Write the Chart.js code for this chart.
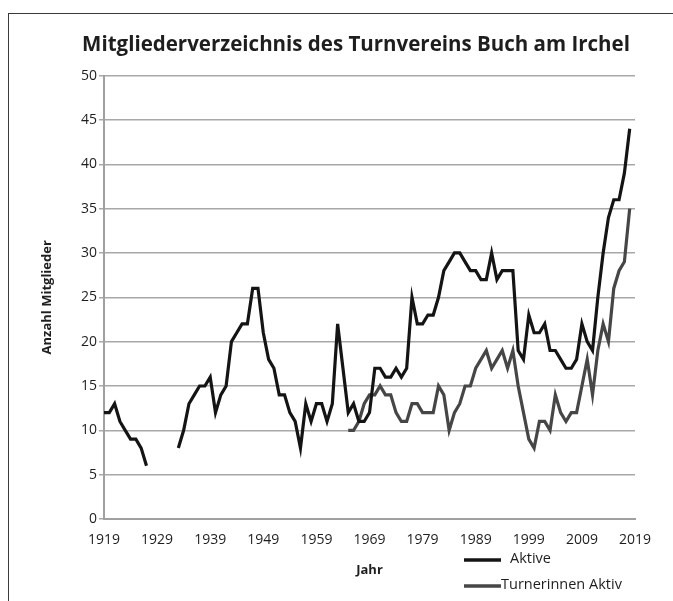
<!DOCTYPE html>
<html><head><meta charset="utf-8">
<script src="https://cdn.jsdelivr.net/npm/chart.js@4.4.1/dist/chart.umd.min.js"></script>
<style>
html,body{margin:0;padding:0;background:#fff;}
#wrap{position:relative;width:673px;height:601px;overflow:hidden;}
#frame{position:absolute;left:8px;top:13px;right:-5px;bottom:-5px;border-top:1.5px solid #3a3a3a;border-left:1.5px solid #3a3a3a;pointer-events:none;}
</style></head><body>
<div id="wrap"><canvas id="c" width="673" height="601"></canvas><div id="frame"></div></div>
<script>
const years = ['1919','1920','1921','1922','1923','1924','1925','1926','1927','1928',
'1929','1930','1931','1932','1933','1934','1935','1936','1937','1938',
'1939','1940','1941','1942','1943','1944','1945','1946','1947','1948',
'1949','1950','1951','1952','1953','1954','1955','1956','1957','1958',
'1959','1960','1961','1962','1963','1964','1965','1966','1967','1968',
'1969','1970','1971','1972','1973','1974','1975','1976','1977','1978',
'1979','1980','1981','1982','1983','1984','1985','1986','1987','1988',
'1989','1990','1991','1992','1993','1994','1995','1996','1997','1998',
'1999','2000','2001','2002','2003','2004','2005','2006','2007','2008',
'2009','2010','2011','2012','2013','2014','2015','2016','2017','2018','2019'];

// Aktive, 1919..2019
const aktive = [12,12,13,11,10,9,9,8,6,null,
null,null,null,null,8,10,13,14,15,15,
16,12,14,15,20,21,22,22,26,26,
21,18,17,14,14,12,11,8,13,11,
13,13,11,13,22,17,12,13,11,11,
12,17,17,16,16,17,16,17,25,22,
22,23,23,25,28,29,30,30,29,28,
28,27,27,30,27,28,28,28,19,18,
23,21,21,22,19,19,18,17,17,18,
22,20,19,25,30,34,36,36,39,44,null];

// Turnerinnen Aktiv, 1919..2019
const turnerinnen = [null,null,null,null,null,null,null,null,null,null,
null,null,null,null,null,null,null,null,null,null,
null,null,null,null,null,null,null,null,null,null,
null,null,null,null,null,null,null,null,null,null,
null,null,null,null,null,null,10,10,11,13,
14,14,15,14,14,12,11,11,13,13,
12,12,12,15,14,10,12,13,15,15,
17,18,19,17,18,19,17,19,15,12,
9,8,11,11,10,14,12,11,12,12,
15,18,14,19,22,20,26,28,29,35,null];

const xTickLabels = ['1919','1929','1939','1949','1959','1969','1979','1989','1999','2009','2019'];
const yMin = 0, yMax = 50, yStep = 5;

const FONT = 'Open Sans';
const TXT = '#1e1e1e';

const custom = {
  id: 'custom',
  afterLayout(chart) {
    const t = chart.titleBlock;
    if (t) { t.left = 39; t.right = 673; }
  },
  afterDraw(chart) {
    const ctx = chart.ctx;
    const rows = [560, 586];
    ctx.save();
    chart.data.datasets.forEach((ds, i) => {
      const y = rows[i];
      ctx.beginPath();
      ctx.strokeStyle = ds.borderColor;
      ctx.lineWidth = 3.5;
      ctx.moveTo(464, y); ctx.lineTo(501, y);
      ctx.stroke();
      ctx.fillStyle = TXT;
      ctx.font = '14.5px "' + FONT + '"';
      ctx.textBaseline = 'middle';
      ctx.textAlign = 'left';
      ctx.fillText(ds.label, i === 0 ? 510 : 501, y - 1);
    });
    ctx.restore();
  }
};

new Chart(document.getElementById('c'), {
  type: 'line',
  data: {
    labels: years,
    datasets: [
      {label: 'Aktive', data: aktive, borderColor: '#141414', backgroundColor: '#141414',
       borderWidth: 3.2, pointRadius: 0, tension: 0, spanGaps: false},
      {label: 'Turnerinnen Aktiv', data: turnerinnen, borderColor: '#464646', backgroundColor: '#464646',
       borderWidth: 3.2, pointRadius: 0, tension: 0, spanGaps: false}
    ]
  },
  options: {
    responsive: false,
    animation: false,
    devicePixelRatio: 1,
    layout: {padding: {left: 0, right: 38, top: 0, bottom: 0}},
    plugins: {
      legend: {display: false},
      tooltip: {enabled: false},
      title: {display: true, text: 'Mitgliederverzeichnis des Turnvereins Buch am Irchel',
        color: TXT, font: {family: FONT, size: 20.5, weight: 'bold'}, padding: {top: 33, bottom: 18}}
    },
    scales: {
      x: {
        type: 'category',
        grid: {display: false},
        border: {display: true, color: '#a0a0a0', width: 2},
        ticks: {autoSkip: false, maxRotation: 0, minRotation: 0, color: TXT,
          font: {family: FONT, size: 14}, padding: 5,
          callback: function(v, i) { const l = this.getLabelForValue(v); return xTickLabels.includes(l) ? l : ''; }},
        title: {display: true, text: 'Jahr', color: TXT, font: {family: FONT, size: 13, weight: 'bold'}, padding: {top: 0, bottom: 23}},
        afterFit(s) { s.height = 82; }
      },
      y: {
        min: yMin, max: yMax,
        grid: {color: '#a8a8a8', lineWidth: 1.5, tickLength: 5, drawTicks: true},
        border: {display: true, color: '#a0a0a0', width: 2},
        ticks: {stepSize: yStep, color: TXT, font: {family: FONT, size: 14}, padding: 2},
        title: {display: true, text: 'Anzahl Mitglieder', color: TXT, font: {family: FONT, size: 13, weight: 'bold'}, padding: {top: 39, bottom: 0}},
        afterFit(s) { s.width = 104; }
      }
    }
  },
  plugins: [custom]
});
</script>
</body></html>
